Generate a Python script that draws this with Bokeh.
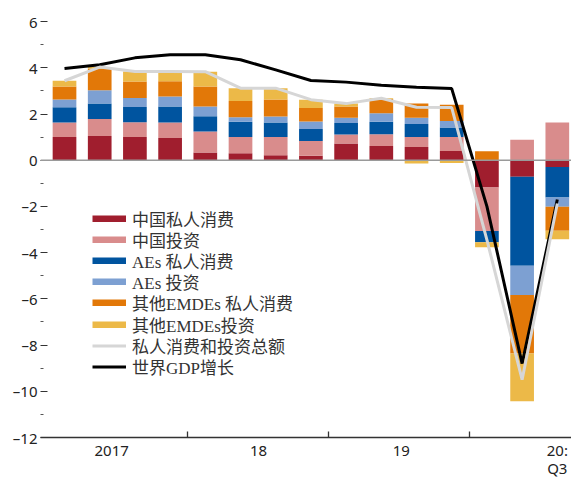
from bokeh.plotting import figure
from bokeh.models import FixedTicker, Span, Legend, LegendItem, LinearAxis
from bokeh.embed import file_html
from bokeh.resources import INLINE

quarters = ["2017Q1", "2017Q2", "2017Q3", "2017Q4",
            "2018Q1", "2018Q2", "2018Q3", "2018Q4",
            "2019Q1", "2019Q2", "2019Q3", "2019Q4",
            "2020Q1", "2020Q2", "2020Q3"]

cn_cons = [1.00, 1.05, 1.00, 0.96, 0.33, 0.30, 0.22, 0.19, 0.72, 0.62, 0.57, 0.40, -1.18, -0.72, -0.29]
cn_inv = [0.63, 0.73, 0.64, 0.67, 0.91, 0.71, 0.79, 0.64, 0.39, 0.50, 0.44, 0.61, -1.88, 0.89, 1.63]
ae_cons = [0.66, 0.68, 0.66, 0.70, 0.66, 0.66, 0.62, 0.52, 0.50, 0.55, 0.56, 0.41, -0.49, -3.85, -1.32]
ae_inv = [0.34, 0.57, 0.39, 0.43, 0.43, 0.19, 0.26, 0.33, 0.23, 0.36, 0.27, 0.28, 0.00, -1.26, -0.40]
em_cons = [0.56, 0.93, 0.72, 0.66, 0.86, 0.70, 0.74, 0.58, 0.49, 0.62, 0.61, 0.70, 0.39, -2.54, -1.04]
em_inv = [0.25, 0.07, 0.43, 0.42, 0.64, 0.56, 0.49, 0.36, 0.12, 0.03, -0.14, -0.12, -0.22, -2.06, -0.37]

total = [3.44, 4.03, 3.84, 3.84, 3.83, 3.12, 3.12, 2.62, 2.45, 2.68, 2.29, 2.28, -3.45, -9.50, -1.87]
gdp = [3.97, 4.13, 4.43, 4.56, 4.56, 4.35, 3.91, 3.45, 3.38, 3.24, 3.16, 3.10, -2.00, -8.80, -1.70]

series_names = ["中国私人消费", "中国投资", "AEs 私人消费", "AEs 投资",
                "其他EMDEs 私人消费", "其他EMDEs投资"]
line_names = ["私人消费和投资总额", "世界GDP增长"]

year_label_pos = [1.34, 5.51, 9.57, 14.0]
year_labels = ["2017", "18", "19", "20:"]
second_line_pos = [14.0]
second_line_labels = ["Q3"]
year_sep = [3.5, 7.5, 11.5]

y_ticks = [-12, -10, -8, -6, -4, -2, 0, 2, 4, 6]
y_minor = [-11, -9, -7, -5, -3, -1, 1, 3, 5]

colors = ["#A01E2E", "#D98C8C", "#00549F", "#7DA0D2", "#E27808", "#ECB948"]
LABEL_FONT = "'Liberation Serif', 'Noto Sans CJK SC'"
TICK_FONT = "'Noto Sans'"

x = list(range(len(quarters)))

p = figure(width=571, height=480, x_range=(-0.682, 14.403), y_range=(-12, 6.35),
           output_backend="svg", toolbar_location=None,
           min_border_left=40, min_border_right=0, min_border_top=13, min_border_bottom=0)
p.grid.visible = False
p.outline_line_color = None
p.background_fill_color = "white"

# stacked bars, positives stacked upwards and negatives downwards
pos = [0.0] * len(x)
neg = [0.0] * len(x)
for s, c in zip([cn_cons, cn_inv, ae_cons, ae_inv, em_cons, em_inv], colors):
    bottoms, tops = [], []
    for i, v in enumerate(s):
        if v >= 0:
            bottoms.append(pos[i]); tops.append(pos[i] + v); pos[i] += v
        else:
            bottoms.append(neg[i]); tops.append(neg[i] + v); neg[i] += v
    p.vbar(x=x, bottom=bottoms, top=tops, width=0.673, fill_color=c, line_color=None)

p.add_layout(Span(location=0, dimension="width", line_color="#9a9a9a", line_width=1.5))

r_gdp = p.line(x, gdp, line_color="black", line_width=3)
r_tot = p.line(x, total, line_color="#d6d6d6", line_width=3)

# x axis
xa = p.xaxis[0]
xa.ticker = FixedTicker(ticks=year_label_pos, minor_ticks=year_sep)
xa.major_label_overrides = {float(k): v for k, v in zip(year_label_pos, year_labels)}
xa.major_tick_in = 0
xa.major_tick_out = 0
xa.minor_tick_in = 6
xa.minor_tick_out = 0
xa.axis_line_color = "#333333"
xa.axis_line_width = 1.3
xa.minor_tick_line_color = "#333333"
xa.minor_tick_line_width = 1.3
xa.major_label_standoff = 2
xa.major_label_text_font = TICK_FONT
xa.major_label_text_font_size = "15px"
xa.major_label_text_color = "#222222"

xa2 = LinearAxis(ticker=FixedTicker(ticks=second_line_pos, minor_ticks=[]),
                 major_label_overrides={float(k): v for k, v in zip(second_line_pos, second_line_labels)},
                 axis_line_color=None, major_tick_line_color=None, minor_tick_line_color=None,
                 major_tick_in=0, major_tick_out=0, minor_tick_in=0, minor_tick_out=0,
                 major_label_standoff=-5, major_label_text_font=TICK_FONT,
                 major_label_text_font_size="15px", major_label_text_color="#222222")
p.add_layout(xa2, "below")

# y axis
ya = p.yaxis[0]
ya.ticker = FixedTicker(ticks=y_ticks, minor_ticks=y_minor)
ya.major_label_overrides = {float(t): ("–" + str(-t) if t < 0 else str(t)) for t in y_ticks}
ya.axis_line_color = None
ya.major_tick_in = 7
ya.major_tick_out = 0
ya.minor_tick_in = 3
ya.minor_tick_out = 0
ya.major_tick_line_color = "#333333"
ya.minor_tick_line_color = "#555555"
ya.major_label_standoff = 3
ya.major_label_text_font = TICK_FONT
ya.major_label_text_font_size = "15px"
ya.major_label_text_color = "#222222"

# legend: one single-row legend per entry so the row pitch can be set tightly
nan = float("nan")
entries = []
for name, c in zip(series_names, colors):
    r = p.line(x=[nan, nan], y=[nan, nan], line_color=c, line_width=7)
    entries.append((name, r))
entries.append((line_names[0], r_tot))
entries.append((line_names[1], r_gdp))

for k, (name, r) in enumerate(entries):
    lg = Legend(items=[LegendItem(label=name, renderers=[r])],
                location=(52, 206.5 - 21.2 * k), glyph_width=34, glyph_height=7,
                label_standoff=6, label_text_font_size="17px", label_text_font=LABEL_FONT,
                label_text_color="#333333", label_height=21, spacing=0, padding=0, margin=0,
                border_line_color=None, background_fill_alpha=0)
    p.add_layout(lg)

open("out.html", "w").write(file_html(p, INLINE))
